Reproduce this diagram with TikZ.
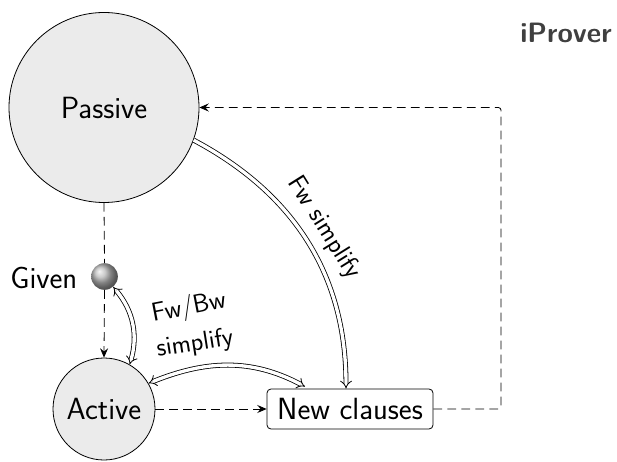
\documentclass[tikz,border=0pt]{standalone}
\usetikzlibrary{arrows.meta,calc}
\begin{document}
\begin{tikzpicture}[x=0.75pt,y=0.75pt,
  font=\sffamily\fontsize{23}{27}\selectfont,
  state/.style={circle,draw,line width=0.6pt,fill=black!8,inner sep=0pt},
  dashline/.style={dash pattern=on 6.5pt off 4pt,line width=0.6pt},
  flow/.style={dashline,-{Stealth[length=7pt,width=6pt,inset=2.5pt]}},
  simp/.style={double,double distance=2.5pt,line width=0.6pt,-{Implies}},
  simpboth/.style={simp,{Implies}-{Implies}},
  lbl/.style={font=\sffamily\fontsize{19.5}{23}\selectfont}]
\useasboundingbox (0,0) rectangle (617,461);

% clause sets
\node[state,minimum size=142.5pt] (P) at (104,353.5) {Passive};
\node[state,minimum size=76.5pt] (A) at (104,52) {Active};
\node[circle,shading=ball,ball color=gray!55,minimum size=20pt,inner sep=0pt] (G) at (104.5,184.5) {};
\node[anchor=east] (GL) at (82,183) {Given};
\node[draw,rounded corners=3pt,line width=0.6pt,minimum width=124.5pt,minimum height=30pt,inner sep=2pt] (N) at (350,52) {New clauses};
\node[font=\sffamily\bfseries\fontsize{21}{25}\selectfont,text=black!75] (T) at (566,428) {iProver};

% given clause selection and clause flow
\draw[dashline] (P.south) -- (G.north);
\draw[flow] (G.south) -- (A.north);
\draw[flow] (A.east) -- (N.west);
\coordinate (R) at (501,0);
\draw[flow,rounded corners=2pt] (N.east) -- (N.east -| R) -- (P.east -| R) -- (P.east);

% simplifications
\draw[simp] (P.-20) to[out=-28,in=90] ($(N.north)+(-4,0)$);
\draw[simpboth] (A.60) to[bend right=28] (G.-50);
\draw[simpboth] (A.30) to[out=22,in=152] ($(N.north)+(-45,2)$);

\node[lbl,rotate=-58] (L1) at (324,233) {Fw simplify};
\node[lbl,rotate=11] (L2) at (189,153) {Fw/Bw};
\node[lbl,rotate=9] (L3) at (195,117) {simplify};
\end{tikzpicture}
\end{document}
